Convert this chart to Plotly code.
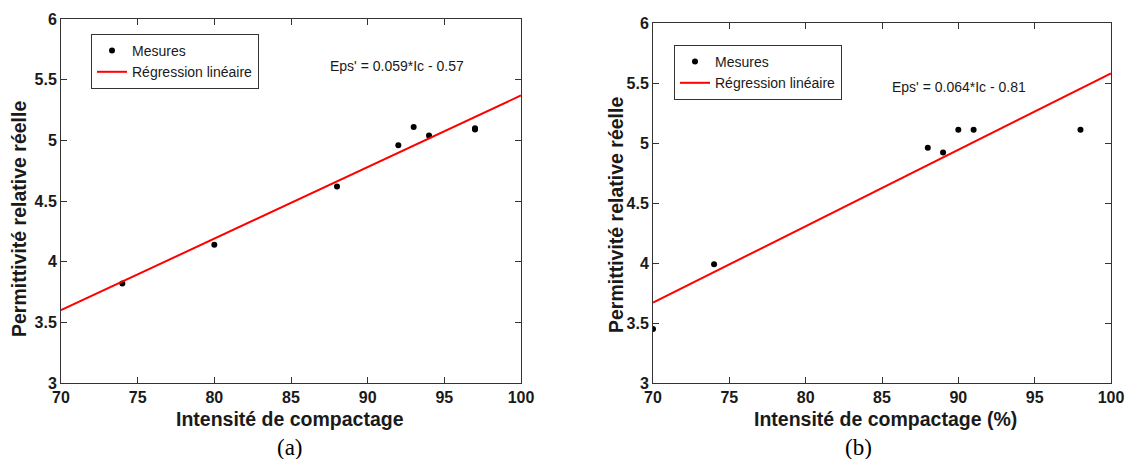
import plotly.graph_objects as go

# (a) mesures et droite de régression
ic_a = [74, 80, 88, 92, 93, 94, 97, 97]
eps_a = [3.82, 4.14, 4.62, 4.96, 5.11, 5.04, 5.10, 5.09]
reg_a_x = [70, 100]
reg_a_y = [3.60, 5.37]

# (b) mesures et droite de régression
ic_b = [70, 74, 88, 89, 90, 91, 98]
eps_b = [3.45, 3.99, 4.96, 4.92, 5.11, 5.11, 5.11]
reg_b_x = [70, 100]
reg_b_y = [3.67, 5.58]

x_ticks = [70, 75, 80, 85, 90, 95, 100]
x_labels = ['70', '75', '80', '85', '90', '95', '100']
y_ticks = [3, 3.5, 4, 4.5, 5, 5.5, 6]
y_labels = ['3', '3.5', '4', '4.5', '5', '5.5', '6']

W, H = 1129, 459
FONT = 'Liberation Sans'
TXT = '#1a1a1a'
AX = '#333333'


def px(x):
    return x / W


def py(y):
    return 1 - y / H


fig = go.Figure()

fig.add_trace(go.Scatter(x=ic_a, y=eps_a, mode='markers', name='Mesures',
                         marker=dict(color='black', size=6),
                         xaxis='x', yaxis='y', legend='legend'))
fig.add_trace(go.Scatter(x=reg_a_x, y=reg_a_y, mode='lines', name='Régression linéaire',
                         line=dict(color='red', width=2),
                         xaxis='x', yaxis='y', legend='legend'))
fig.add_trace(go.Scatter(x=ic_b, y=eps_b, mode='markers', name='Mesures',
                         marker=dict(color='black', size=6),
                         xaxis='x2', yaxis='y2', legend='legend2'))
fig.add_trace(go.Scatter(x=reg_b_x, y=reg_b_y, mode='lines', name='Régression linéaire',
                         line=dict(color='red', width=2),
                         xaxis='x2', yaxis='y2', legend='legend2'))

tfont = dict(family=FONT, size=16, color=TXT)
xax = dict(range=[70, 100], tickvals=x_ticks, ticktext=['<b>%s</b>' % t for t in x_labels],
           ticks='inside', ticklen=6, tickcolor=AX, showline=True, linecolor=AX,
           linewidth=1, mirror='ticks', showgrid=False, zeroline=False,
           automargin=False, tickfont=tfont)
yax = dict(range=[3, 6], tickvals=y_ticks, ticktext=['<b>%s</b>' % t for t in y_labels],
           ticks='inside', ticklen=6, tickcolor=AX, showline=True, linecolor=AX,
           linewidth=1, mirror='ticks', showgrid=False, zeroline=False,
           automargin=False, tickfont=tfont)

leg = dict(xanchor='left', yanchor='top', bgcolor='white', bordercolor=AX,
           borderwidth=1, font=dict(family=FONT, size=14, color=TXT),
           tracegroupgap=0)

fig.update_layout(
    template='none',
    width=W, height=H,
    margin=dict(l=0, r=0, t=0, b=0),
    paper_bgcolor='white', plot_bgcolor='white',
    xaxis=dict(xax, domain=[px(61), px(521)], anchor='y'),
    yaxis=dict(yax, domain=[py(383), py(19)], anchor='x'),
    xaxis2=dict(xax, domain=[px(653), px(1111)], anchor='y2'),
    yaxis2=dict(yax, domain=[py(383), py(23)], anchor='x2'),
    legend=dict(leg, x=px(91), y=py(34)),
    legend2=dict(leg, x=px(674), y=py(45)),
    showlegend=True,
)

bold = dict(family=FONT, size=19.5, color=TXT)
notes = [
    dict(x=px(328), y=py(66), text="Eps' = 0.059*Ic - 0.57", xanchor='left',
         font=dict(family=FONT, size=14, color=TXT)),
    dict(x=px(890), y=py(87), text="Eps' = 0.064*Ic - 0.81", xanchor='left',
         font=dict(family=FONT, size=14, color=TXT)),
    dict(x=px(290), y=py(419), text='<b>Intensité de compactage</b>', font=bold),
    dict(x=px(885), y=py(419), text='<b>Intensité de compactage (%)</b>', font=bold),
    dict(x=px(19), y=py(219), text='<b>Permittivité relative réelle</b>', textangle=-90, font=bold),
    dict(x=px(616), y=py(215), text='<b>Permittivité relative réelle</b>', textangle=-90, font=bold),
    dict(x=px(290), y=py(447), text='(a)',
         font=dict(family='Liberation Serif', size=23, color='black')),
    dict(x=px(858), y=py(447), text='(b)',
         font=dict(family='Liberation Serif', size=23, color='black')),
]
for n in notes:
    n.setdefault('xanchor', 'center')
    fig.add_annotation(xref='paper', yref='paper', yanchor='middle',
                       showarrow=False, **n)

# pas de marge de page autour de la figure
fig.write_html('out.html', config={'displayModeBar': False},
               post_script="document.body.style.margin='0';document.body.style.overflow='hidden';")
